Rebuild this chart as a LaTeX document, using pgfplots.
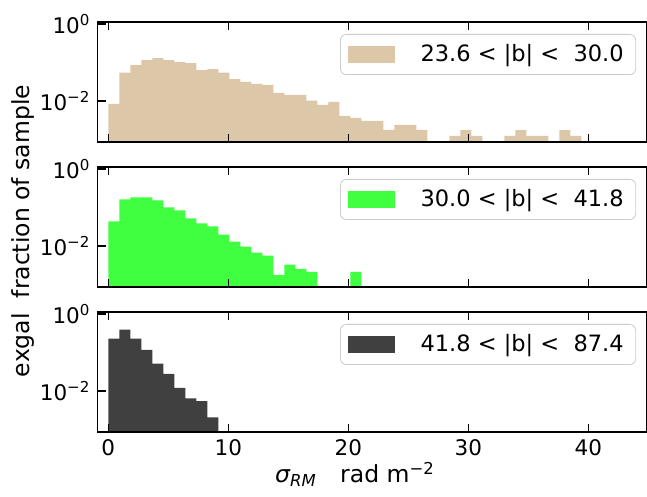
\documentclass[border=0pt]{standalone}
\usepackage{fontspec}
\setmainfont{DejaVu Sans}
\usepackage{pgfplots}
\usepackage{pgfplotstable}
\pgfplotsset{compat=1.18}

\definecolor{tanA}{RGB}{221,199,169}
\definecolor{limeA}{RGB}{64,255,64}
\definecolor{darkA}{RGB}{64,64,64}

% histogram bins: left edges, fraction of sample (last row closes the last bin)
\pgfplotstableread{
x y
0.000 0.00836
0.917 0.0545
1.833 0.0861
2.750 0.1161
3.667 0.1309
4.583 0.1161
5.500 0.1030
6.417 0.0970
7.333 0.0638
8.250 0.0678
9.167 0.0545
10.083 0.0372
11.000 0.0312
11.917 0.0277
12.833 0.0261
13.750 0.0161
14.667 0.0143
15.583 0.0143
16.500 0.0102
17.417 0.00787
18.333 0.00942
19.250 0.00407
20.167 0.00361
21.083 0.00303
22.000 0.00303
22.917 0.00177
23.833 0.00238
24.750 0.00238
25.667 0.00177
26.583 1e-6
27.500 1e-6
28.417 0.00123
29.333 0.00173
30.250 0.00123
31.167 1e-6
32.083 1e-6
33.000 0.00123
33.917 0.00173
34.833 0.00123
35.750 0.00123
36.667 1e-6
37.583 0.00173
38.500 0.00123
39.417 1e-6
40.333 1e-6
}\histA

\pgfplotstableread{
x y
0.000 0.0434
0.917 0.1637
1.833 0.1845
2.750 0.1845
3.667 0.1538
4.583 0.1009
5.500 0.0841
6.417 0.0520
7.333 0.0385
8.250 0.0321
9.167 0.0198
10.083 0.0130
11.000 0.00959
11.917 0.00667
12.833 0.00557
13.750 0.00177
14.667 0.00324
15.583 0.00254
16.500 0.00212
17.417 1e-6
18.333 1e-6
19.250 1e-6
20.167 0.00212
21.083 1e-6
}\histB

\pgfplotstableread{
x y
0.000 0.229
0.917 0.395
1.833 0.229
2.750 0.1175
3.667 0.0514
4.583 0.0280
5.500 0.0120
6.417 0.00641
7.333 0.00546
8.250 0.00203
9.167 1e-6
}\histC

\pgfplotsset{
  panel/.style={
    scale only axis, width=274.5pt, height=60pt, anchor=south west,
    xmin=-0.9, xmax=44.85,
    ymin=8.5e-4, ymax=1.14, log origin=infty,
    xtick={0,10,20,30,40},
    ytick={0.01,1}, yticklabels={10\textsuperscript{−2},10\textsuperscript{0}},
    minor xtick={}, minor ytick={},
    tick align=inside, xtick pos=both, ytick pos=left,
    major tick length=4pt,
    every tick/.style={black, line width=0.8pt},
    axis line style={line width=0.6pt},
    tick label style={font=\fontsize{10.75}{12}\selectfont},
    /pgf/number format/assume math mode=true,
    axis on top,
    legend cell align=left,
    legend style={at={(rel axis cs:0.981,0.9)}, anchor=north east,
      draw=black!20, rounded corners=3pt, fill=white, fill opacity=0.8,
      text opacity=1, font=\fontsize{11.25}{13}\selectfont,
      inner xsep=4pt, inner ysep=3pt},
  },
  legpatch/.style={legend image code/.code={%
    \fill[fill=#1, sharp corners, fill opacity=1] (0pt,-4.25pt) rectangle (23.5pt,4.25pt);}},
}

\begin{document}
\begin{tikzpicture}
\path[use as bounding box] (0,0) rectangle (323.5pt,248.5pt);

\begin{axis}[ymode=log, panel, at={(48.75pt,177.5pt)}, xticklabels={}, legpatch=tanA]
\addplot[ybar interval, fill=tanA, draw=none] table[x=x, y=y] {\histA};
\addlegendentry{\hspace{7pt}~23.6 < |b| <~~30.0}
\end{axis}

\begin{axis}[ymode=log, panel, at={(48.75pt,105pt)}, xticklabels={}, legpatch=limeA]
\addplot[ybar interval, fill=limeA, draw=none] table[x=x, y=y] {\histB};
\addlegendentry{\hspace{7pt}~30.0 < |b| <~~41.8}
\end{axis}

\begin{axis}[ymode=log, panel, at={(48.75pt,32.5pt)}, legpatch=darkA]
\addplot[ybar interval, fill=darkA, draw=none] table[x=x, y=y] {\histC};
\addlegendentry{\hspace{7pt}~41.8 < |b| <~~87.4}
\end{axis}

\node[rotate=90, anchor=base, font=\fontsize{11.75}{13}\selectfont] at (14.75pt,133pt) {exgal~~fraction of sample};
\node[anchor=base, font=\fontsize{11.75}{13}\selectfont] at (177.5pt,7pt)
  {{\itshape σ}\textsubscript{\itshape RM}\hspace{1em}rad m\textsuperscript{−2}};
\end{tikzpicture}
\end{document}
